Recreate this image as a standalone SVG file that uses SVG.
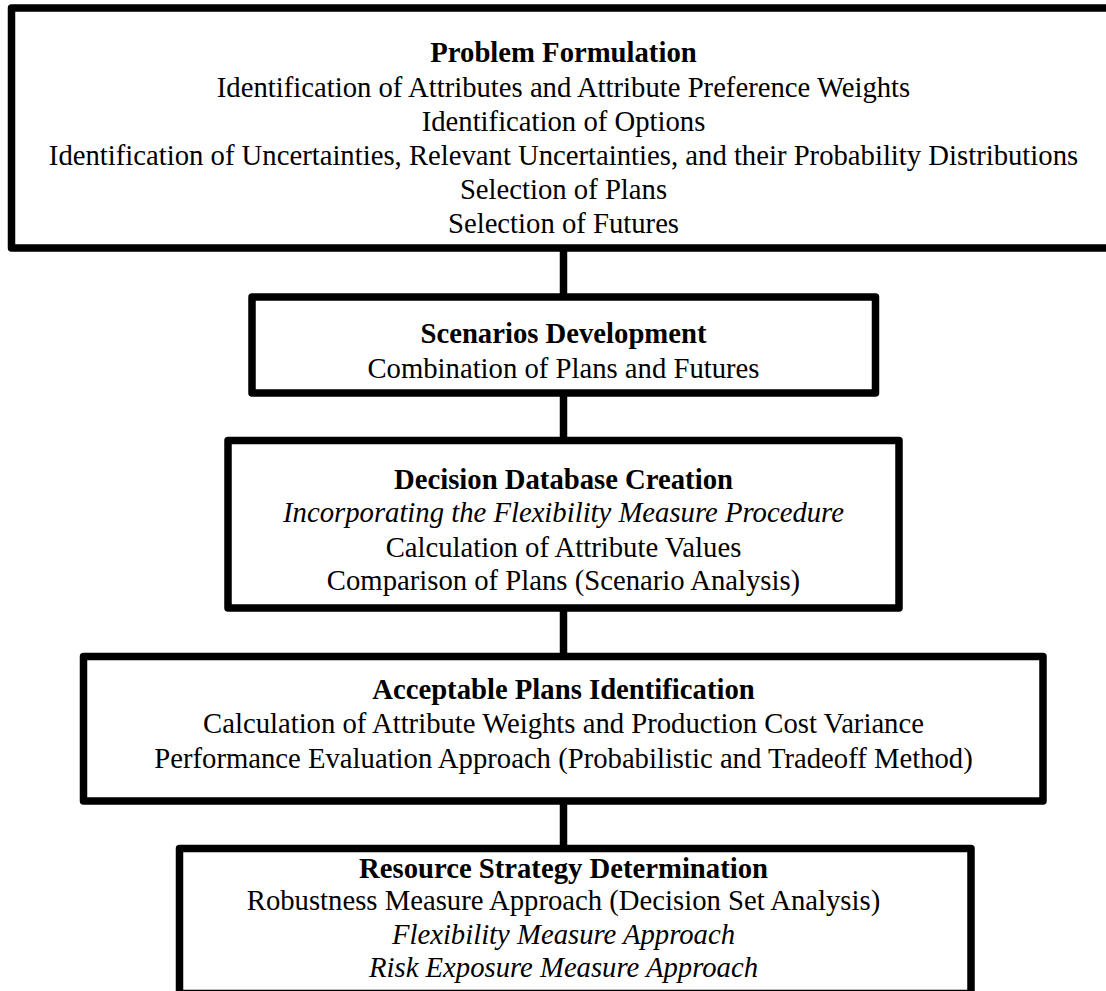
<svg xmlns="http://www.w3.org/2000/svg" width="1106" height="991" viewBox="0 0 1106 991">
  <style>
    .box { fill: #ffffff; stroke: #000000; stroke-width: 7.5; stroke-linejoin: round; }
    .link { stroke: #000000; stroke-width: 7.5; fill: none; }
    text { font-family: "Liberation Serif", "Times New Roman", serif; font-size: 28.7px; fill: #000000; text-anchor: middle; }
    .title { font-weight: bold; }
    .em { font-style: italic; }
  </style>
  <rect width="1106" height="991" fill="#ffffff"/>

  <!-- vertical links between the stages -->
  <g id="connectors">
    <line class="link" x1="563.5" y1="248" x2="563.5" y2="297"/>
    <line class="link" x1="563.5" y1="393" x2="563.5" y2="440.5"/>
    <line class="link" x1="563.5" y1="608" x2="563.5" y2="656.5"/>
    <line class="link" x1="563.5" y1="801" x2="563.5" y2="848.5"/>
  </g>

  <g id="problem-formulation">
    <rect class="box" x="11.5" y="8" width="1104" height="240"/>
    <text class="title" x="563.5" y="62">Problem Formulation</text>
    <text x="563.5" y="96.5">Identification of Attributes and Attribute Preference Weights</text>
    <text x="563.5" y="130.5">Identification of Options</text>
    <text x="563.5" y="164.5">Identification of Uncertainties, Relevant Uncertainties, and their Probability Distributions</text>
    <text x="563.5" y="198.5">Selection of Plans</text>
    <text x="563.5" y="232.5">Selection of Futures</text>
  </g>

  <g id="scenarios-development">
    <rect class="box" x="252" y="297" width="623.5" height="96"/>
    <text class="title" x="563.5" y="342.5">Scenarios Development</text>
    <text x="563.5" y="378">Combination of Plans and Futures</text>
  </g>

  <g id="decision-database-creation">
    <rect class="box" x="228" y="440.5" width="671" height="167.5"/>
    <text class="title" x="563.5" y="488.5">Decision Database Creation</text>
    <text class="em" x="563.5" y="522">Incorporating the Flexibility Measure Procedure</text>
    <text x="563.5" y="556.5">Calculation of Attribute Values</text>
    <text x="563.5" y="590">Comparison of Plans (Scenario Analysis)</text>
  </g>

  <g id="acceptable-plans-identification">
    <rect class="box" x="83.5" y="656.5" width="959.5" height="144.5"/>
    <text class="title" x="563.5" y="699">Acceptable Plans Identification</text>
    <text x="563.5" y="733">Calculation of Attribute Weights and Production Cost Variance</text>
    <text x="563.5" y="767.5">Performance Evaluation Approach (Probabilistic and Tradeoff Method)</text>
  </g>

  <g id="resource-strategy-determination">
    <rect class="box" x="179.5" y="848.5" width="791.5" height="145"/>
    <text class="title" x="563.5" y="877.5">Resource Strategy Determination</text>
    <text x="563.5" y="910">Robustness Measure Approach (Decision Set Analysis)</text>
    <text class="em" x="563.5" y="943.5">Flexibility Measure Approach</text>
    <text class="em" x="563.5" y="977">Risk Exposure Measure Approach</text>
  </g>
</svg>
